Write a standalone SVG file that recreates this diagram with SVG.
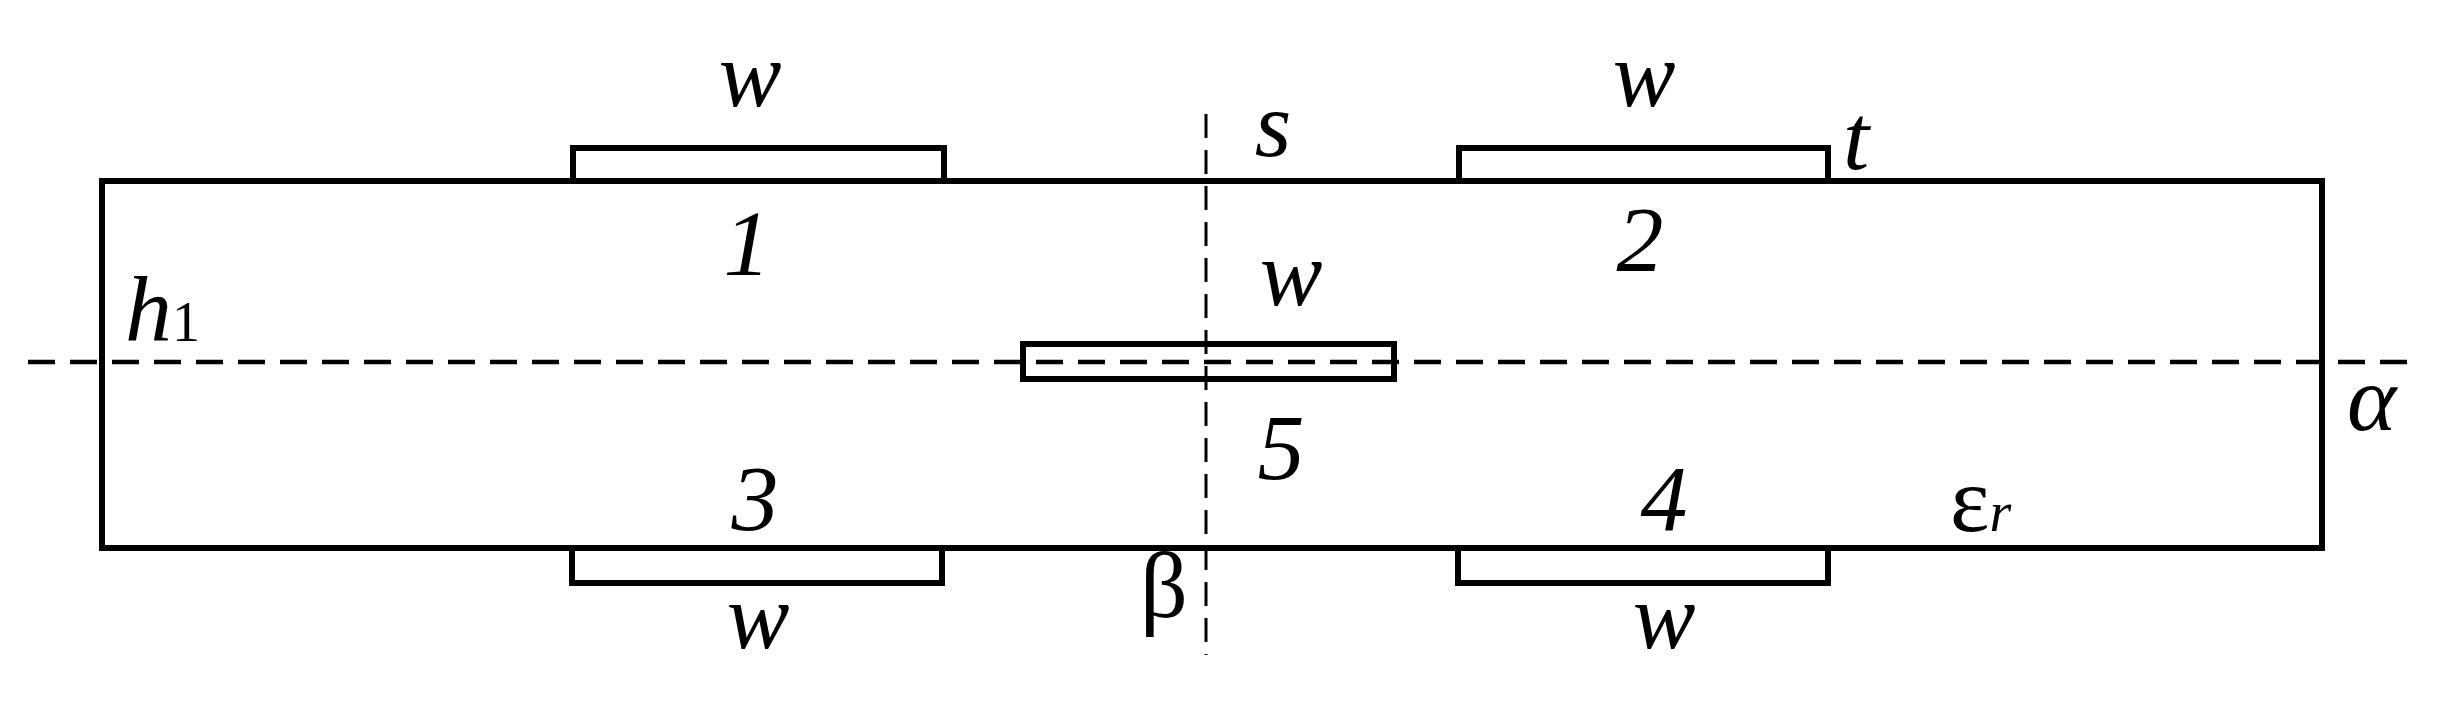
<svg xmlns="http://www.w3.org/2000/svg" width="2450" height="708" viewBox="0 0 2450 708">
<style>
.s{fill:none;stroke:#000;stroke-width:6}
.d{fill:none;stroke:#000;stroke-width:4.5;stroke-dasharray:27 15}
text{font-family:"Liberation Serif","DejaVu Serif",serif;font-style:italic;font-size:94px;fill:#000;text-anchor:middle}
</style>
<rect width="2450" height="708" fill="#fff"/>
<g id="substrate"><rect class="s" x="102" y="181" width="2220" height="367"/></g>
<g id="strip1"><path class="s" d="M573 181V148H944V181"/></g>
<g id="strip2"><path class="s" d="M1459 181V148H1828V181"/></g>
<g id="strip3"><path class="s" d="M572 548V583H942V548"/></g>
<g id="strip4"><path class="s" d="M1458 548V583H1828V548"/></g>
<g id="strip5"><rect class="s" x="1023" y="344" width="371" height="35"/></g>
<g id="connectors">
<line class="d" x1="28" y1="362" x2="2420" y2="362"/>
<line class="d" x1="1206" y1="114" x2="1206" y2="655" style="stroke-width:3;stroke-dasharray:24 12"/>
</g>
<g id="labels">
<text x="750" y="106">w</text>
<text x="1644" y="106">w</text>
<text x="1273" y="156">s</text>
<text x="1856" y="169">t</text>
<text x="747" y="275">1</text>
<text x="1640" y="271">2</text>
<text x="125" y="341" style="text-anchor:start">h<tspan font-size="56" font-style="normal">1</tspan></text>
<text x="1291" y="305">w</text>
<text x="1281" y="479">5</text>
<text x="755" y="530">3</text>
<text x="1664" y="530">4</text>
<text x="1950" y="531" style="text-anchor:start;font-style:normal">ε<tspan font-size="56" font-style="italic">r</tspan></text>
<text x="2347" y="430" style="text-anchor:start">α</text>
<text x="1140" y="617" style="text-anchor:start;font-style:normal">β</text>
<text x="758" y="648">w</text>
<text x="1664" y="648">w</text>
</g>
</svg>
